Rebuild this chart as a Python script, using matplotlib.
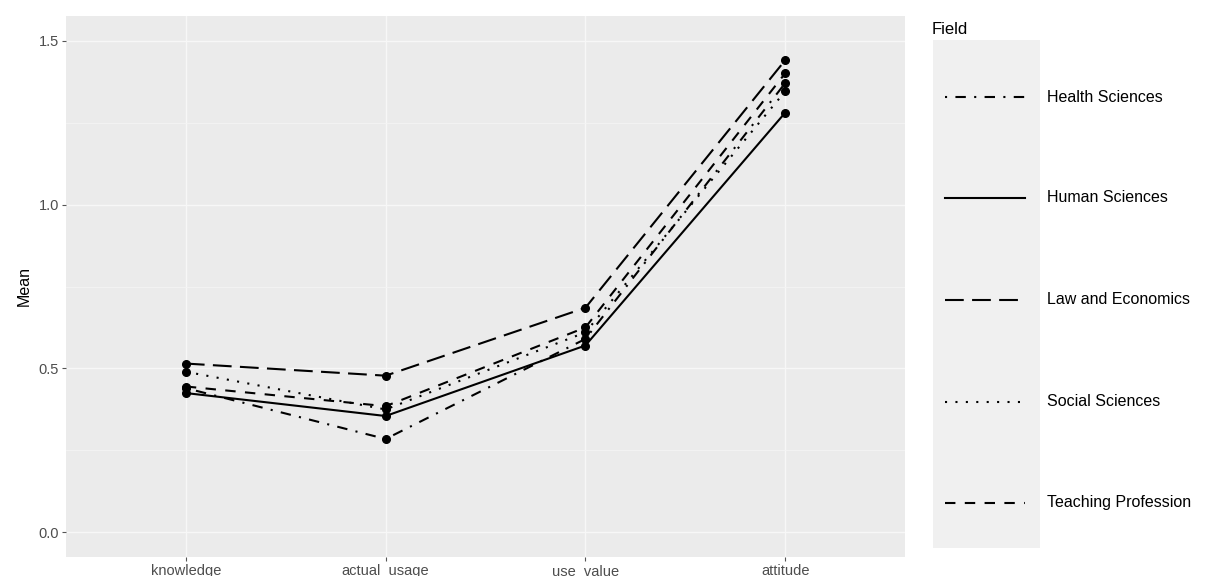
import matplotlib.pyplot as plt

plt.rcParams["font.family"] = ["Liberation Sans", "DejaVu Sans"]

measures = ["knowledge", "actual_usage", "use_value", "attitude"]
fields = ["Health Sciences", "Human Sciences", "Law and Economics",
          "Social Sciences", "Teaching Profession"]

health = [0.44, 0.285, 0.59, 1.37]
human = [0.425, 0.355, 0.57, 1.28]
law = [0.515, 0.478, 0.685, 1.44]
social = [0.49, 0.375, 0.61, 1.345]
teaching = [0.445, 0.385, 0.625, 1.40]

series = [health, human, law, social, teaching]
dash_styles = [(0, (1, 4, 5, 4)), "-", (0, (9, 4)), (0, (1, 4)), (0, (5, 4.5))]

fig = plt.figure(figsize=(12.05, 5.76), dpi=100)
ax = fig.add_axes([66 / 1205, 1 - 557 / 576, (905 - 66) / 1205, (557 - 16) / 576])
ax.set_facecolor("#EBEBEB")

x = list(range(len(measures)))
for vals, ls in zip(series, dash_styles):
    ax.plot(x, vals, color="black", linestyle=ls, linewidth=1.5,
            marker="o", markersize=5.5, zorder=3)

ax.set_xlim(-0.6, 3.6)
ax.set_ylim(-0.075, 1.575)
ax.set_xticks(x)
ax.set_xticklabels(measures)
ax.set_yticks([0.0, 0.5, 1.0, 1.5])
ax.set_yticklabels(["0.0", "0.5", "1.0", "1.5"])
ax.set_yticks([0.25, 0.75, 1.25], minor=True)
ax.grid(which="major", color="#F7F7F7", linewidth=1.0)
ax.grid(which="minor", axis="y", color="#F4F4F4", linewidth=0.6)
ax.set_axisbelow(True)
for s in ax.spines.values():
    s.set_visible(False)
ax.tick_params(which="major", length=3, color="#555555", labelcolor="#4D4D4D",
               labelsize=10.5, pad=2)
ax.tick_params(which="minor", length=0)
ax.set_ylabel("Mean", fontsize=11.5, labelpad=5)

# legend drawn as its own panel
lg = fig.add_axes([933 / 1205, 1 - 548 / 576, 107 / 1205, 508 / 576])
lg.set_facecolor("#F0F0F0")
lg.set_xlim(933, 1040)
lg.set_ylim(548, 40)
lg.set_xticks([])
lg.set_yticks([])
for s in lg.spines.values():
    s.set_visible(False)
key_y = [97, 198, 300, 402, 503]
for yy, name, ls in zip(key_y, fields, dash_styles):
    lg.plot([945, 1025], [yy, yy], color="black", linestyle=ls, linewidth=1.5)
    lg.text(1047, yy, name, fontsize=11.5, va="center", ha="left", clip_on=False)

fig.text(932 / 1205, 1 - 30 / 576, "Field", fontsize=12, va="center", ha="left")

fig.savefig("out.png", dpi=100, facecolor="white")
